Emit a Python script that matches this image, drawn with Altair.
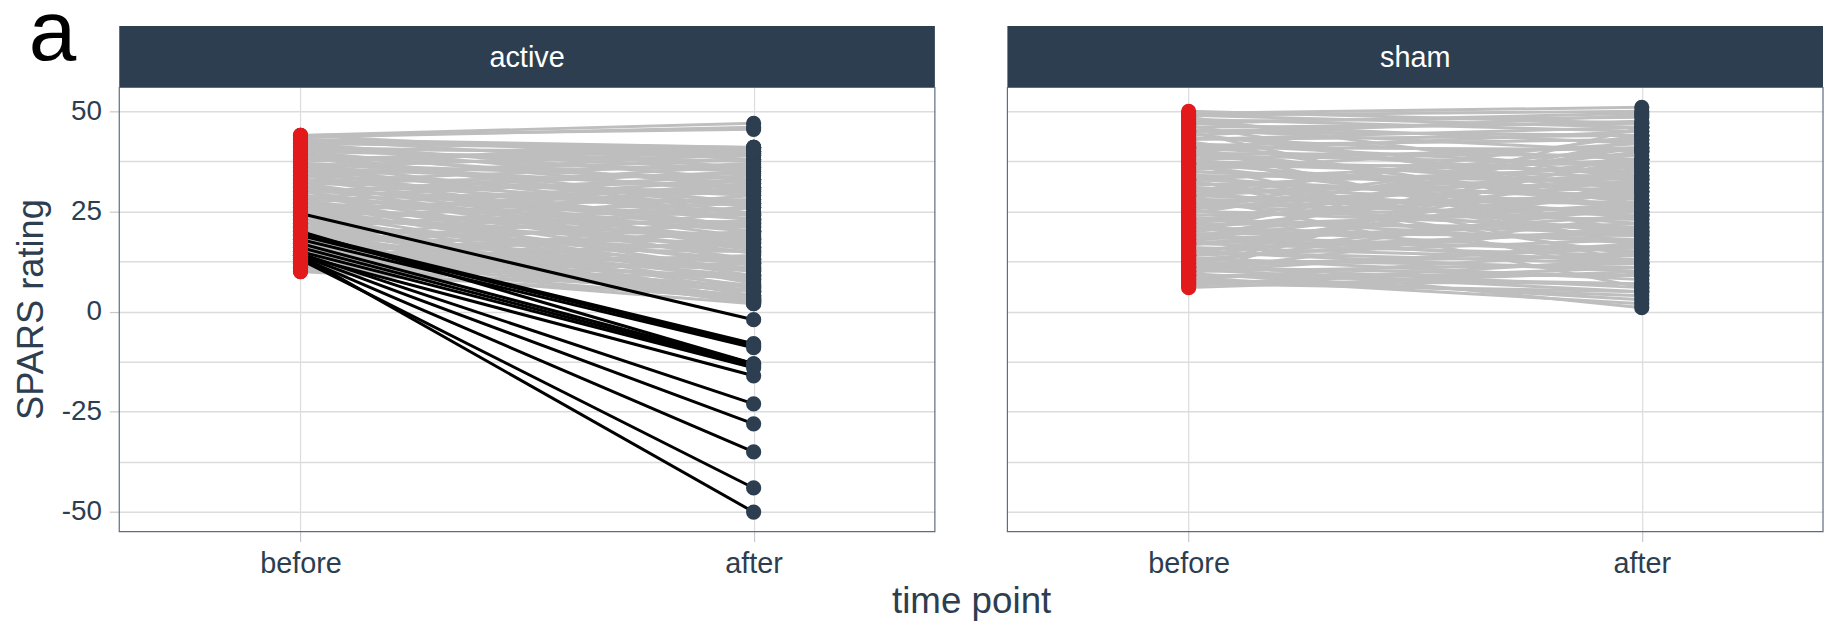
import altair as alt
import pandas as pd

# ---------------- data ----------------
groups = ["active", "sham"]
time_points = ["before", "after"]
y_major = [-50, -25, 0, 25, 50]
y_minor = [-37.5, -12.5, 12.5, 37.5]

active_before = [
    44, 43.5, 44, 43, 42, 44, 41, 43, 40, 42,
    39, 41.5, 38, 40, 37, 39, 36, 38.5, 35, 37,
    34, 36, 33, 35, 32, 34, 31, 33, 30, 32,
    29, 31, 28, 30, 27, 29, 26, 28, 25, 27,
    24, 26, 23, 25, 22, 24, 21, 23, 20, 22,
    19, 21, 18, 20, 17, 19, 16, 18, 15, 17,
    14, 16, 13, 12, 11, 10, 42.5, 40.5, 38, 36.5,
    34, 32.5, 30, 28.5, 26, 24.5, 22, 20.5, 18, 16.5,
    14, 12, 15, 13, 11, 10, 12.5, 14.5, 39.5, 35.5,
    31.5, 27.5, 37.5, 33.5, 29.5, 25.5, 21.5, 17.5, 13.5, 11,
    43, 41, 39, 37, 35, 33, 31, 29, 27, 25,
    23, 21, 19, 17, 15, 13, 11, 10.5, 12, 14,
    16, 18, 20, 22, 24, 26, 28, 30, 32, 36,
    # responders (after below zero)
    24.5, 19.5, 19, 18, 20, 17, 16, 15, 14, 14.5, 14, 13.5, 13, 14,
]
active_after = [
    47, 46, 45.5, 41, 40.5, 38, 39, 36, 37.5, 33,
    35, 31, 40, 29.5, 33, 27, 31, 26, 36, 24,
    29, 23, 26.5, 21, 30, 20, 23, 18.5, 27, 17,
    20, 16, 24, 14.5, 22, 13, 18, 11.5, 21, 10,
    16, 9, 19, 7.5, 13, 6, 15, 5, 10, 4,
    12, 3, 9, 2.5, 11, 2.5, 8, 2, 6, 3.5,
    5, 2.5, 4, 3, 2, 3.5, 41, 40, 41, 39,
    38, 37, 35, 34, 33, 32, 31, 29, 28, 26,
    25, 23, 20, 17, 14, 12, 9, 10.5, 24.5, 16,
    12.5, 7, 41, 39.5, 36.5, 30, 26, 22, 20, 18,
    39.5, 35.5, 32, 30.5, 27.5, 24.5, 21.5, 18, 15.5, 12,
    10.5, 8, 6.5, 5, 3, 6.5, 8.5, 5.5, 11, 13,
    15, 17.5, 19.5, 22.5, 27, 28, 30.5, 32.5, 34.5, 40,
    # responders
    -2, -8, -8.5, -9, -13, -13, -13.5, -14, -16, -23, -28, -35, -44, -50,
]

sham_before = [
    50, 49.5, 49, 48, 47.5, 47, 46, 45.5, 45, 44,
    43.5, 43, 42, 41.5, 41, 40, 39.5, 39, 38, 37.5,
    37, 36, 35.5, 35, 34, 33.5, 33, 32, 31.5, 31,
    30, 29.5, 29, 28, 27.5, 27, 26, 25.5, 25, 24,
    23.5, 23, 22, 21.5, 21, 20, 19.5, 19, 18, 17.5,
    17, 16, 15.5, 15, 14, 13.5, 13, 12, 11.5, 11,
    10, 9.5, 9, 8, 7.5, 7, 6, 12.5, 10.5, 8.5,
    48.5, 46.5, 44.5, 42.5, 40.5, 38.5, 36.5, 34.5, 32.5, 30.5,
    28.5, 26.5, 24.5, 22.5, 20.5, 18.5, 16.5, 14.5, 12, 10,
    45, 41, 37, 33, 29, 9, 11, 14, 17, 20,
    49, 47, 45, 43, 41, 39, 37, 35, 33, 31,
    29, 27, 25, 23, 21, 19, 17, 15, 13, 11,
    9, 7, 8, 6.5, 10, 14, 18, 22, 26, 30,
]
sham_after = [
    47, 51, 50, 45, 48.5, 42, 47, 40, 44, 49,
    38, 46, 36, 43, 34, 45, 39, 31, 41, 35,
    28, 37, 42, 30, 33, 26, 38, 29, 36, 24,
    32, 22, 34, 27, 31, 20, 29, 35, 23, 26,
    17, 30, 21, 25, 15, 27, 19, 12, 22, 16,
    24, 13, 20, 10, 18, 8, 21, 14, 6, 16,
    12, 3, 9, 15, 7, 11, 10, 1, 5, 2,
    33, 28, 30, 25, 27, 20, 23, 17, 19, 14,
    44, 40, 41, 37, 33, 38, 30, 32, 27, 24,
    19, 16, 12, 9, 6, 44, 40, 36, 46, 43,
    46, 49.5, 47.5, 44, 40.5, 37, 33.5, 32, 28, 27,
    25, 24, 21, 19.5, 18, 15, 14, 12, 11, 9,
    7, 5, 4, 13, 17, 26, 31, 34, 38, 41,
]

rows = []
for g, before, after in [("active", active_before, active_after),
                         ("sham", sham_before, sham_after)]:
    for i, (vb, va) in enumerate(zip(before, after)):
        resp = bool(va < 0)
        rows.append(dict(group=g, id=f"{g}{i}", time="before", rating=vb, responder=resp))
        rows.append(dict(group=g, id=f"{g}{i}", time="after", rating=va, responder=resp))
df = pd.DataFrame(rows)

# ---------------- style ----------------
FONT = "Liberation Sans"
NAVY = "#2C3E50"
RED = "#E31A1C"
GRAY = "#BEBEBE"
GRID = "#DCDCDC"
TICK = "#C8C8C8"
BORDER = "#5D6D7E"
W = 821
H = 509
STRIP = 62
Y_DOMAIN = [-54.88, 71.32]
grid_values = sorted(y_major + y_minor)


def make_panel(g, first):
    sub = df[df.group == g]
    xenc = alt.X(
        "time:O", sort=time_points,
        scale=alt.Scale(type="point", padding=0.4),
        axis=alt.Axis(title=None, labelAngle=0, labelFontSize=29, labelColor=NAVY,
                      labelFont=FONT, labelPadding=8, tickSize=10, tickColor=TICK,
                      tickWidth=1.2, grid=True, gridColor=GRID, gridWidth=1.2,
                      domain=False),
    )
    yaxis = alt.Axis(
        title=None, values=grid_values, grid=True, gridColor=GRID, gridWidth=1.5,
        domain=False, labels=first, ticks=first, labelFontSize=28, labelColor=NAVY,
        labelFont=FONT, labelPadding=8, tickSize=10, tickColor=TICK, tickWidth=1.2,
        labelExpr="abs(datum.value) % 25 == 0 ? (datum.value < 0 ? '-' + abs(datum.value) : '' + datum.value) : ''",
        tickOpacity={"condition": {"test": "abs(datum.value) % 25 != 0", "value": 0}, "value": 1},
    )
    yenc = alt.Y("rating:Q", scale=alt.Scale(domain=Y_DOMAIN, nice=False, zero=False), axis=yaxis)

    base = alt.Chart(sub)
    gray = base.transform_filter("!datum.responder").mark_line(
        color=GRAY, strokeWidth=3).encode(x=xenc, y=yenc, detail="id:N")
    black = base.transform_filter("datum.responder").mark_line(
        color="black", strokeWidth=3).encode(x=xenc, y=yenc, detail="id:N")
    pts = base.mark_circle(size=235, opacity=1).encode(
        x=xenc, y=yenc,
        color=alt.Color("time:N", scale=alt.Scale(domain=time_points, range=[RED, NAVY]), legend=None),
    )

    lab = pd.DataFrame({"label": [g]})
    strip = alt.Chart(lab).mark_rect(color=NAVY).encode(
        x=alt.value(0), x2=alt.value(W), y=alt.value(0), y2=alt.value(STRIP))
    strip_text = alt.Chart(lab).mark_text(
        font=FONT, fontSize=29, color="white", baseline="alphabetic", align="center"
    ).encode(text="label:N", x=alt.value(W / 2), y=alt.value(41))
    border = alt.Chart(lab).mark_rect(fillOpacity=0, stroke=BORDER, strokeWidth=1.2).encode(
        x=alt.value(0), x2=alt.value(W), y=alt.value(STRIP), y2=alt.value(H))

    layers = [gray, black, pts, strip, strip_text, border]
    if first:
        tag = alt.Chart(pd.DataFrame({"t": ["a"]})).mark_text(
            font=FONT, fontSize=86, color="black", align="left", baseline="alphabetic"
        ).encode(text="t:N", x=alt.value(-91), y=alt.value(34))
        ytitle = alt.Chart(pd.DataFrame({"t": ["SPARS rating"]})).mark_text(
            font=FONT, fontSize=36.5, color=NAVY, align="center", baseline="alphabetic", angle=270
        ).encode(text="t:N", x=alt.value(-76.5), y=alt.value(285.5))
        xtitle = alt.Chart(pd.DataFrame({"t": ["time point"]})).mark_text(
            font=FONT, fontSize=37, color=NAVY, align="center", baseline="alphabetic"
        ).encode(text="t:N", x=alt.value(858), y=alt.value(591))
        layers += [tag, ytitle, xtitle]
    return alt.layer(*layers).properties(width=W, height=H)


chart = alt.hconcat(
    make_panel("active", True), make_panel("sham", False),
    spacing=73, bounds="flush",
).properties(
    padding={"left": 6, "top": -19, "right": 0, "bottom": 0},
    background="white",
).configure_view(stroke=None)

chart.save("out.html", embed_options={"renderer": "svg", "actions": False})
